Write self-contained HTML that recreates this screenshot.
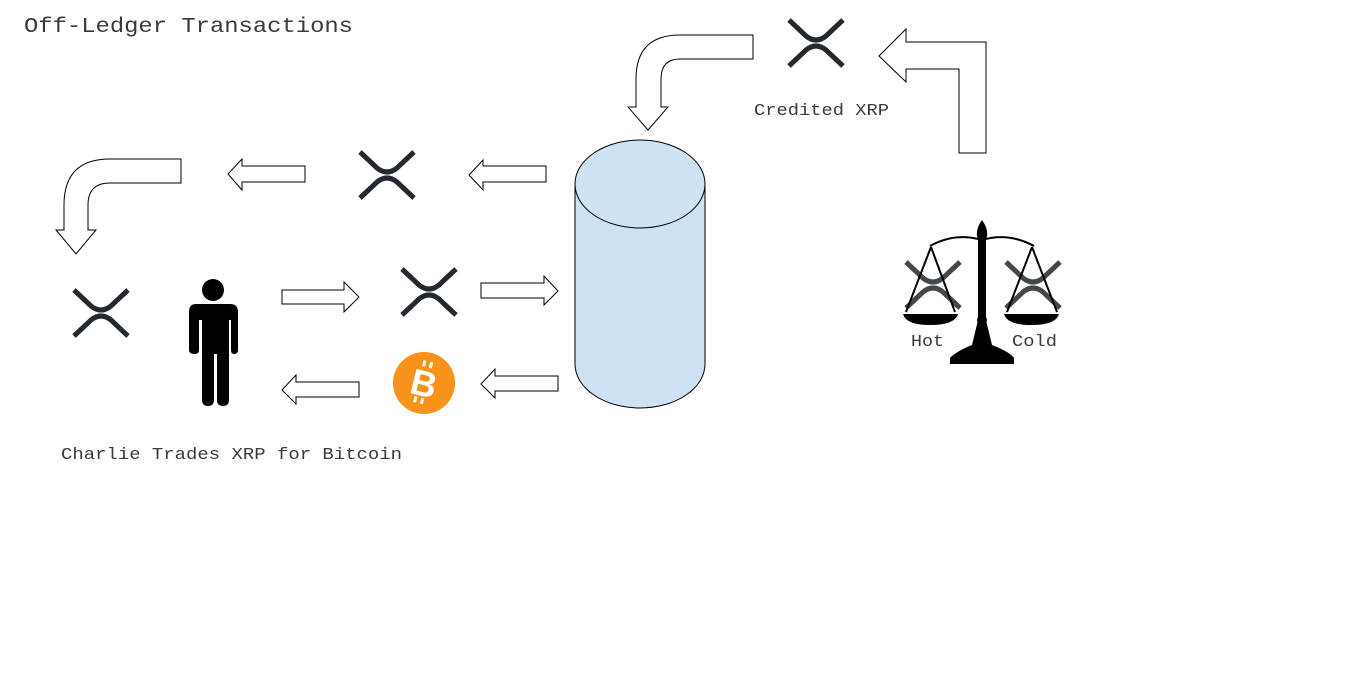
<!DOCTYPE html>
<html><head><meta charset="utf-8"><style>html,body{margin:0;padding:0;background:#fff;}svg{display:block}</style></head>
<body>
<svg width="1350" height="694" viewBox="0 0 1350 694" xmlns="http://www.w3.org/2000/svg">
<defs>
<g id="xrp">
<path d="M2,2 L19,18 Q29,26 39,18 L56,2" fill="none" stroke="#23292f" stroke-width="5"/>
<path d="M2,48 L19,32 Q29,24 39,32 L56,48" fill="none" stroke="#23292f" stroke-width="5"/>
</g>
</defs>
<g font-family="Liberation Mono, monospace" fill="#3a3a3a">
<text x="24" y="32" font-size="21" textLength="329" lengthAdjust="spacingAndGlyphs">Off-Ledger Transactions</text>
<text x="61" y="459" font-size="17" textLength="341" lengthAdjust="spacingAndGlyphs">Charlie Trades XRP for Bitcoin</text>
<text x="754" y="115" font-size="17" textLength="135" lengthAdjust="spacingAndGlyphs">Credited XRP</text>
<text x="605" y="281" font-size="17" textLength="56" lengthAdjust="spacingAndGlyphs">Alpha</text>
<text x="597" y="321" font-size="17" textLength="90" lengthAdjust="spacingAndGlyphs">Exchange</text>
<text x="911" y="346" font-size="17" textLength="33" lengthAdjust="spacingAndGlyphs">Hot</text>
<text x="1012" y="346" font-size="17" textLength="45" lengthAdjust="spacingAndGlyphs">Cold</text>
</g>
<g fill="#fff" stroke="#000" stroke-width="1">
<path d="M181,159 L110,159 Q64,159 64,205 L64,230 L56,230 L76,254 L96,230 L88,230 L88,205 Q88,183 110,183 L181,183 Z"/>
<path d="M753,35 L680,35 Q636,35 636,79 L636,107 L628,107 L648,130 L668,107 L661,107 L661,79 Q661,59 680,59 L753,59 Z"/>
<path d="M986,153 L986,42 L906,42 L906,29 L879,56 L906,82 L906,69 L959,69 L959,153 Z"/>
<path d="M305,166 L242,166 L242,159 L228,174 L242,190 L242,182 L305,182 Z"/>
<path d="M546,166 L483,166 L483,160 L469,175 L483,190 L483,182 L546,182 Z"/>
<path d="M359,382 L296,382 L296,375 L282,390 L296,404 L296,397 L359,397 Z"/>
<path d="M558,376 L495,376 L495,369 L481,384 L495,398 L495,391 L558,391 Z"/>
<path d="M282,290 L344,290 L344,282 L359,297 L344,312 L344,304 L282,304 Z"/>
<path d="M481,283 L544,283 L544,276 L558,291 L544,305 L544,298 L481,298 Z"/>
</g>
<path d="M575,184 L575,364 A65,44 0 0 0 705,364 L705,184 Z" fill="#cfe2f3" stroke="#000"/>
<ellipse cx="640" cy="184" rx="65" ry="44" fill="#cfe2f3" stroke="#000"/>
<use href="#xrp" x="787" y="18"/>
<use href="#xrp" x="358" y="150"/>
<use href="#xrp" x="72" y="288"/>
<use href="#xrp" x="400" y="267"/>
<g fill="#000">
<circle cx="213" cy="290" r="11"/>
<path d="M196,304 L230,304 Q238,304 238,312 L238,350 Q238,354 234,354 Q231,354 231,350 L231,320 L229,320 L229,400 Q229,406 223,406 Q217,406 217,400 L217,354 L214,354 L214,400 Q214,406 208,406 Q202,406 202,400 L202,320 L199,320 L199,350 Q199,354 195,354 Q189,354 189,350 L189,312 Q189,304 196,304 Z"/>
</g>
<circle cx="424" cy="383" r="31" fill="#f7931a"/>
<g transform="rotate(14 424 383)">
<text x="424" y="396" font-family="Liberation Sans, sans-serif" font-weight="bold" font-size="36" fill="#fff" text-anchor="middle">B</text>
<rect x="418" y="361" width="3" height="6" fill="#fff"/><rect x="425" y="361" width="3" height="6" fill="#fff"/>
<rect x="418" y="398" width="3" height="6" fill="#fff"/><rect x="425" y="398" width="3" height="6" fill="#fff"/>
</g>
<g opacity="0.85"><use href="#xrp" x="904" y="260"/><use href="#xrp" x="1004" y="260"/></g>
<g fill="none" stroke="#000" stroke-width="2">
<path d="M930,246 Q955,232 982,240 Q1008,232 1034,246"/>
<path d="M931,247 L906,312 M931,247 L955,312"/>
<path d="M1032,247 L1007,312 M1032,247 L1057,312"/>
</g>
<g fill="#000">
<path d="M903,314 L958,314 Q955,325 930,325 Q906,325 903,314 Z"/>
<path d="M1004,314 L1059,314 Q1056,325 1031,325 Q1007,325 1004,314 Z"/>
<path d="M982,220 Q988,228 987,236 L986,240 L986,320 L992,345 Q1010,352 1014,358 L1014,364 L950,364 L950,358 Q955,352 972,345 L978,320 L978,240 L977,236 Q976,228 982,220 Z"/>
<circle cx="982" cy="320" r="5"/>
</g>
</svg>
</body></html>
